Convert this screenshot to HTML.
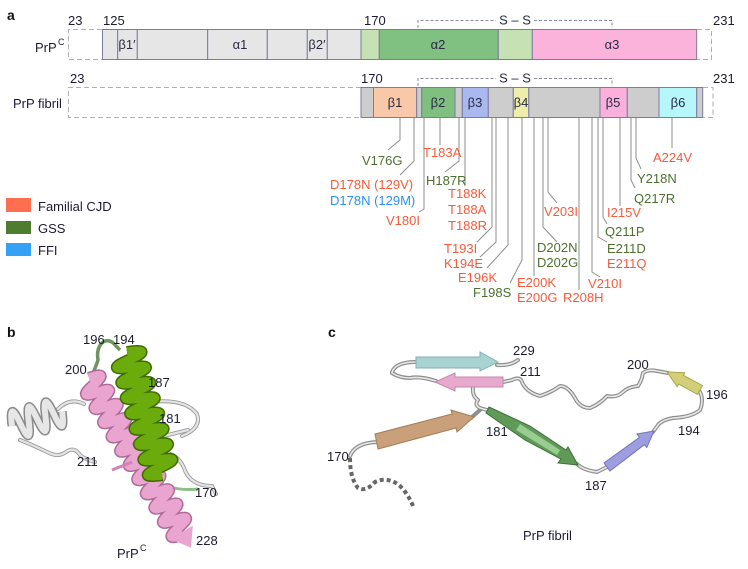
<!DOCTYPE html>
<html><head><meta charset="utf-8">
<style>
html,body{margin:0;padding:0;background:#fff;}
svg{display:block;font-family:"Liberation Sans",Arial,sans-serif;}
.n{font-size:13px;fill:#1c1c30;}
.o{font-size:13px;fill:#f85a3a;}
.g{font-size:13px;fill:#4d7030;}
.b{font-size:13px;fill:#2a90f5;}
.gk{font-size:13px;fill:#2a2a44;text-anchor:middle;}
.ln{fill:none;stroke:#8e8e8e;stroke-width:1;}
.sg{stroke:#7c7c9e;stroke-width:1;}
</style></head><body>
<svg width="748" height="569" viewBox="0 0 748 569" xmlns="http://www.w3.org/2000/svg">
<rect width="748" height="569" fill="#fff"/>
<!-- Panel a -->
<text x="7" y="20" font-size="14" font-weight="bold" fill="#111">a</text>
<text x="68" y="25" class="n">23</text>
<text x="103" y="25" class="n">125</text>
<text x="364" y="25" class="n">170</text>
<text x="713" y="25" class="n">231</text>
<text x="70" y="83" class="n">23</text>
<text x="361" y="83" class="n">170</text>
<text x="713" y="83" class="n">231</text>
<text x="35" y="52" class="n">PrP</text><text x="58" y="45" font-size="9" fill="#1c1c30">C</text>
<text x="13" y="108" class="n">PrP fibril</text>

<!-- S-S brackets -->
<path d="M418,28 V20.5 H496 M534,20.5 H612 V28" fill="none" stroke="#8a8aa0" stroke-dasharray="3,2"/>
<text x="515" y="24.5" class="gk">S – S</text>
<path d="M418,86 V78.5 H496 M534,78.5 H612 V86" fill="none" stroke="#8a8aa0" stroke-dasharray="3,2"/>
<text x="515" y="82.5" class="gk">S – S</text>

<!-- PrPC bar -->
<path d="M102,29.5 H68.5 V59.5 H102" fill="none" stroke="#b0b0b0" stroke-dasharray="5,3"/>
<g class="sg">
<rect x="102.5" y="29.5" width="15.2" height="30" fill="#e6e6e6"/>
<rect x="117.7" y="29.5" width="19.6" height="30" fill="#e6e6e6"/>
<rect x="137.3" y="29.5" width="70.4" height="30" fill="#e6e6e6"/>
<rect x="207.7" y="29.5" width="59.6" height="30" fill="#e6e6e6"/>
<rect x="267.3" y="29.5" width="40" height="30" fill="#e6e6e6"/>
<rect x="307.3" y="29.5" width="20" height="30" fill="#e6e6e6"/>
<rect x="327.3" y="29.5" width="33.7" height="30" fill="#e6e6e6"/>
<rect x="361" y="29.5" width="18.3" height="30" fill="#c6e2b5"/>
<rect x="379.3" y="29.5" width="119" height="30" fill="#80c080"/>
<rect x="498.3" y="29.5" width="34" height="30" fill="#c6e2b5"/>
<rect x="532.3" y="29.5" width="164.4" height="30" fill="#fbb3dc"/>
</g>
<path d="M697,29.5 H711.5 V59.5 H697" fill="none" stroke="#b0b0b0" stroke-dasharray="5,3"/>
<text x="127" y="49" class="gk">β1′</text>
<text x="240" y="49" class="gk">α1</text>
<text x="317" y="49" class="gk">β2′</text>
<text x="438" y="49" class="gk">α2</text>
<text x="612" y="49" class="gk">α3</text>

<!-- Fibril bar -->
<path d="M361,87.5 H68.5 V117.5 H361" fill="none" stroke="#b0b0b0" stroke-dasharray="5,3"/>
<g class="sg">
<rect x="361" y="87.5" width="12.5" height="30" fill="#cdcdcd"/>
<rect x="373.5" y="87.5" width="43.2" height="30" fill="#f8c8a8"/>
<rect x="416.7" y="87.5" width="5" height="30" fill="#cdcdcd"/>
<rect x="421.7" y="87.5" width="33.3" height="30" fill="#7fbf7f"/>
<rect x="455" y="87.5" width="7.3" height="30" fill="#cdcdcd"/>
<rect x="462.3" y="87.5" width="26" height="30" fill="#a9b9f0"/>
<rect x="488.3" y="87.5" width="25" height="30" fill="#cdcdcd"/>
<rect x="513.3" y="87.5" width="15.5" height="30" fill="#efedab"/>
<rect x="528.8" y="87.5" width="71.2" height="30" fill="#cdcdcd"/>
<rect x="600" y="87.5" width="27.3" height="30" fill="#fbb0dc"/>
<rect x="627.3" y="87.5" width="31.7" height="30" fill="#cdcdcd"/>
<rect x="659" y="87.5" width="37.7" height="30" fill="#b5f7fa"/>
<rect x="696.7" y="87.5" width="6" height="30" fill="#cdcdcd"/>
</g>
<path d="M703,87.5 H713 V117.5 H703" fill="none" stroke="#b0b0b0" stroke-dasharray="5,3"/>
<text x="395" y="107" class="gk">β1</text>
<text x="438" y="107" class="gk">β2</text>
<text x="475" y="107" class="gk">β3</text>
<text x="521" y="107" class="gk">β4</text>
<text x="613" y="107" class="gk">β5</text>
<text x="678" y="107" class="gk">β6</text>

<!-- Mutation connectors -->
<g class="ln">
<path d="M400,118 V140 L388,150"/>
<path d="M414,118 V161 L400,175"/>
<path d="M424,118 V209 L419,212"/>
<path d="M440,118 V145"/>
<path d="M459,118 V161 L445,172"/>
<path d="M465,118 V186"/>
<path d="M492,118 V227 L477,242"/>
<path d="M496,118 V242 L480,257"/>
<path d="M508,118 V245 L487,268"/>
<path d="M522,118 V260 L510,283"/>
<path d="M534,118 V276"/>
<path d="M543,118 V227 L557,242"/>
<path d="M548,118 V192 L557,203"/>
<path d="M579,118 V290"/>
<path d="M592,118 V272 L600,277"/>
<path d="M598,118 V237 L607,242"/>
<path d="M603,118 V217 L607,224"/>
<path d="M620,118 V206"/>
<path d="M631,118 V180 L635,188"/>
<path d="M636,118 V158 L641,169"/>
<path d="M672,118 V148"/>
</g>
<text x="362" y="165" class="g">V176G</text>
<text x="330" y="189" class="o">D178N (129V)</text>
<text x="330" y="205" class="b">D178N (129M)</text>
<text x="386" y="225" class="o">V180I</text>
<text x="423" y="157" class="o">T183A</text>
<text x="426" y="185" class="g">H187R</text>
<text x="448" y="198" class="o">T188K</text>
<text x="448" y="214" class="o">T188A</text>
<text x="448" y="230" class="o">T188R</text>
<text x="444" y="253" class="o">T193I</text>
<text x="444" y="268" class="o">K194E</text>
<text x="458" y="282" class="o">E196K</text>
<text x="473" y="297" class="g">F198S</text>
<text x="517" y="287" class="o">E200K</text>
<text x="517" y="302" class="o">E200G</text>
<text x="537" y="252" class="g">D202N</text>
<text x="537" y="267" class="g">D202G</text>
<text x="544" y="216" class="o">V203I</text>
<text x="563" y="302" class="o">R208H</text>
<text x="588" y="288" class="o">V210I</text>
<text x="607" y="253" class="g">E211D</text>
<text x="607" y="268" class="o">E211Q</text>
<text x="605" y="236" class="g">Q211P</text>
<text x="607" y="217" class="o">I215V</text>
<text x="634" y="203" class="g">Q217R</text>
<text x="637" y="183" class="g">Y218N</text>
<text x="653" y="162" class="o">A224V</text>

<!-- Legend -->
<rect x="6" y="198" width="25" height="14" fill="#ff6e4f"/>
<rect x="6" y="221" width="25" height="13" fill="#4e7d30"/>
<rect x="6" y="243" width="25" height="13" fill="#33a2f5"/>
<text x="38" y="211" class="n">Familial CJD</text>
<text x="38" y="233" class="n">GSS</text>
<text x="38" y="255" class="n">FFI</text>

<!-- Panel b -->
<text x="7" y="337" font-size="14" font-weight="bold" fill="#111">b</text>
<g fill="none" stroke="#9a9a9a" stroke-width="4" stroke-linecap="round">
<path d="M58,409 Q70,397 84,404"/>
<path d="M20,440 Q35,446 47,452 Q58,458 66,452 Q74,446 80,455 Q86,460 95,462"/>
<path d="M150,402 Q185,398 197,414 Q202,428 182,436"/>
<path d="M140,442 L188,430"/>
<path d="M150,448 Q178,452 184,468 Q190,486 212,486 L216,494"/>
</g>
<g fill="none" stroke="#e4e4e4" stroke-width="2.2" stroke-linecap="round">
<path d="M58,409 Q70,397 84,404"/>
<path d="M20,440 Q35,446 47,452 Q58,458 66,452 Q74,446 80,455 Q86,460 95,462"/>
<path d="M150,402 Q185,398 197,414 Q202,428 182,436"/>
<path d="M140,442 L188,430"/>
<path d="M150,448 Q178,452 184,468 Q190,486 212,486 L216,494"/>
</g>
<path d="M152,478 Q170,492 198,489" fill="none" stroke="#8cc088" stroke-width="3"/>
<path d="M92,376 Q96,366 98,360 Q96,348 103,342 Q110,338 116,346 L120,350" fill="none" stroke="#6e9460" stroke-width="3.5"/>
<!-- gray helix -->
<g transform="translate(12,426) rotate(-16)">
<path d="M0,0 q4.35,-28 8.7,0 t8.7,0 t8.7,0 t8.7,0 t8.7,0 t8.7,0" fill="none" stroke="#8a8a8a" stroke-width="9"/>
<path d="M0,0 q4.35,-28 8.7,0 t8.7,0 t8.7,0 t8.7,0 t8.7,0 t8.7,0" fill="none" stroke="#e6e6e6" stroke-width="6"/>
</g>
<!-- pink helix -->
<g transform="translate(89,378) rotate(59)">
<path d="M0,0 q4.15,-22 8.3,0 t8.3,0 t8.3,0 t8.3,0 t8.3,0 t8.3,0 t8.3,0 t8.3,0 t8.3,0 t8.3,0 t8.3,0 t8.3,0 t8.3,0 t8.3,0 t8.3,0 t8.3,0 t8.3,0 t8.3,0 t8.3,0 t8.3,0 t8.3,0 t8.3,0" fill="none" stroke="#b06a98" stroke-width="12"/>
<path d="M0,0 q4.15,-22 8.3,0 t8.3,0 t8.3,0 t8.3,0 t8.3,0 t8.3,0 t8.3,0 t8.3,0 t8.3,0 t8.3,0 t8.3,0 t8.3,0 t8.3,0 t8.3,0 t8.3,0 t8.3,0 t8.3,0 t8.3,0 t8.3,0 t8.3,0 t8.3,0 t8.3,0" fill="none" stroke="#e9a4d0" stroke-width="9"/>
<polygon points="180,-13 198,0 180,13" fill="#e9a4d0"/>
</g>
<path d="M112,470 L132,462" stroke="#d77fb7" stroke-width="3"/>
<!-- green helix -->
<g transform="translate(127,352) rotate(74)">
<path d="M0,0 q4,-28 8,0 t8,0 t8,0 t8,0 t8,0 t8,0 t8,0 t8,0 t8,0 t8,0 t8,0 t8,0 t8,0 t8,0 t8,0 t8,0" fill="none" stroke="#3e6c00" stroke-width="12"/>
<path d="M0,0 q4,-28 8,0 t8,0 t8,0 t8,0 t8,0 t8,0 t8,0 t8,0 t8,0 t8,0 t8,0 t8,0 t8,0 t8,0 t8,0 t8,0" fill="none" stroke="#6cab0c" stroke-width="9"/>
</g>
<text x="83" y="344" class="n">196</text>
<text x="113" y="344" class="n">194</text>
<text x="65" y="374" class="n">200</text>
<text x="148" y="387" class="n">187</text>
<text x="159" y="423" class="n">181</text>
<text x="77" y="466" class="n">211</text>
<text x="195" y="497" class="n">170</text>
<text x="196" y="545" class="n">228</text>
<text x="117" y="558" class="n">PrP</text><text x="140" y="551" font-size="9" fill="#1c1c30">C</text>

<!-- Panel c -->
<text x="328" y="337" font-size="14" font-weight="bold" fill="#111">c</text>
<g fill="none" stroke="#8e8e8e" stroke-width="4" stroke-linecap="round" stroke-linejoin="round">
<path d="M392,372 Q396,362 416,362"/>
<path d="M392,373 Q400,378 410,378 Q420,376 436,381"/>
<path d="M497,365 Q510,366 518,360"/>
<path d="M503,382 L512,380 Q520,376 522,382 Q526,392 540,396 Q552,392 560,386 Q568,386 575,398 Q580,408 590,408 Q600,404 607,396 Q617,398 623,392 Q628,387 638,386 Q642,380 643,373 Q648,369 657,371 L668,373"/>
<path d="M700,392 Q704,400 700,410 Q692,417 673,418 Q662,420 658,425 L653,432"/>
<path d="M577,464 Q583,470 597,472 L607,467"/>
<path d="M350,456 Q355,443 377,442"/>
<path d="M473,387 Q472,396 478,400 Q474,405 480,408 L487,410"/>
<path d="M471,418 L480,410"/>
</g>
<g fill="none" stroke="#e8e8e8" stroke-width="1.6" stroke-linecap="round" stroke-linejoin="round">
<path d="M392,372 Q396,362 416,362"/>
<path d="M392,373 Q400,378 410,378 Q420,376 436,381"/>
<path d="M497,365 Q510,366 518,360"/>
<path d="M503,382 L512,380 Q520,376 522,382 Q526,392 540,396 Q552,392 560,386 Q568,386 575,398 Q580,408 590,408 Q600,404 607,396 Q617,398 623,392 Q628,387 638,386 Q642,380 643,373 Q648,369 657,371 L668,373"/>
<path d="M700,392 Q704,400 700,410 Q692,417 673,418 Q662,420 658,425 L653,432"/>
<path d="M577,464 Q583,470 597,472 L607,467"/>
<path d="M350,456 Q355,443 377,442"/>
<path d="M473,387 Q472,396 478,400 Q474,405 480,408 L487,410"/>
</g>
<path d="M350,458 Q350,478 358,488 Q366,492 375,482 Q388,476 400,486 Q408,494 413,506" fill="none" stroke="#666" stroke-width="4" stroke-dasharray="4,3"/>
<!-- cyan strand -->
<polygon points="416,357 480,357 480,352 498,362 480,371 480,368 416,368" fill="#a9d3d3" stroke="#86b2b2" stroke-width="1"/>
<!-- pink strand -->
<polygon points="503,377 455,377 455,373 435,382 455,391 455,387 503,387" fill="#e8aacc" stroke="#c884ae" stroke-width="1"/>
<!-- brown strand -->
<polygon points="375,434 452,414 451,410 474,417 457,432 456,428 378,449" fill="#c9a07a" stroke="#a67d58" stroke-width="1"/>
<!-- green strand -->
<polygon points="489,407 530,426 566,450 568,447 578,465 558,463 561,459 525,440 486,413" fill="#5f9a58" stroke="#3f7038" stroke-width="1"/>
<polygon points="520,424 560,450 557,455 516,430" fill="#98cc90"/>
<!-- blue strand -->
<polygon points="610,471 644.3,444.7 646.8,447.5 654,431 637,434 639.5,437.3 604,463" fill="#9d9de0" stroke="#7474b8" stroke-width="1"/>
<!-- yellow strand -->
<polygon points="667,372 684.8,372.7 683.4,375.3 702.4,385.6 697.6,394.4 678.6,384.1 677.2,386.7" fill="#d3cf78" stroke="#aaa650" stroke-width="1"/>
<text x="513" y="355" class="n">229</text>
<text x="520" y="376" class="n">211</text>
<text x="627" y="369" class="n">200</text>
<text x="706" y="399" class="n">196</text>
<text x="678" y="435" class="n">194</text>
<text x="486" y="436" class="n">181</text>
<text x="327" y="461" class="n">170</text>
<text x="585" y="490" class="n">187</text>
<text x="523" y="540" class="n">PrP fibril</text>
</svg>
</body></html>
